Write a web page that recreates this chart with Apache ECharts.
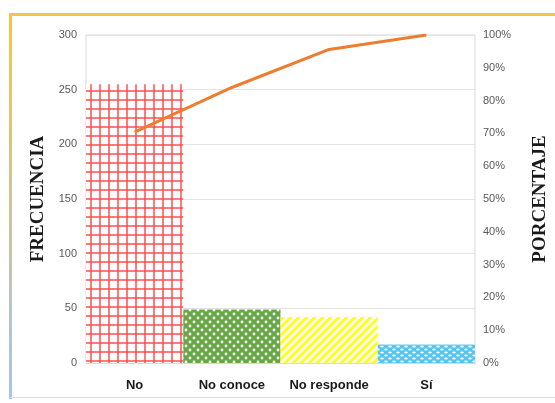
<!DOCTYPE html>
<html>
<head>
<meta charset="utf-8">
<script src="https://cdn.jsdelivr.net/npm/echarts@6/dist/echarts.min.js"></script>
<style>
  html, body { margin: 0; padding: 0; background: #fff; }
  #chart { width: 555px; height: 403px; }
</style>
</head>
<body>
<div id="chart"></div>
<script>
// Pareto data: response frequencies and cumulative percentage
const categories = ['No', 'No conoce', 'No responde', 'Sí'];
const frequencies = [255, 49, 42, 17];
const cumulativePct = [70.4, 84, 95.6, 100];
const leftTicks = [0, 50, 100, 150, 200, 250, 300];

// Small repeating tiles used as hatch fills for the bars
function tile(w, h, draw) {
  const c = document.createElement('canvas');
  c.width = w; c.height = h;
  draw(c.getContext('2d'), w, h);
  return c;
}

const plaid = tile(9, 9, (g, w, h) => {
  g.fillStyle = '#ffffff'; g.fillRect(0, 0, w, h);
  g.fillStyle = 'rgba(255,70,70,0.72)';
  g.fillRect(0, 0, w, 2);
  g.fillRect(0, 0, 2, h);
});

const dots = tile(8, 8, (g, w, h) => {
  g.fillStyle = '#66a844'; g.fillRect(0, 0, w, h);
  g.fillStyle = '#ffffff';
  [[2, 2], [6, 6]].forEach(([x, y]) => {
    g.beginPath(); g.arc(x, y, 1.4, 0, Math.PI * 2); g.fill();
  });
});

const stripes = tile(8, 8, (g, w, h) => {
  g.fillStyle = '#ffffff'; g.fillRect(0, 0, w, h);
  g.strokeStyle = '#ffff1a'; g.lineWidth = 3;
  [[-8, 8, 8, -8], [0, 8, 8, 0], [0, 16, 16, 0]].forEach(([a, b, c, d]) => {
    g.beginPath(); g.moveTo(a, b); g.lineTo(c, d); g.stroke();
  });
});

const waves = tile(8, 6, (g, w, h) => {
  g.fillStyle = '#55c6f2'; g.fillRect(0, 0, w, h);
  g.fillStyle = '#ffffff';
  [[2, 1.5], [6, 4.5]].forEach(([x, y]) => {
    g.beginPath(); g.ellipse(x, y, 1.8, 1.1, 0, 0, Math.PI * 2); g.fill();
  });
});

const fills = [plaid, dots, stripes, waves];

const tickFont = {
  color: '#595959',
  fontSize: 11,
  fontFamily: 'Liberation Sans Narrow, Liberation Sans, Arial, sans-serif'
};
const titleFont = {
  color: '#1a1a1a',
  fontSize: 19,
  fontWeight: 'bold',
  fontFamily: 'Liberation Serif, Times New Roman, serif'
};

const chart = echarts.init(document.getElementById('chart'), null, { renderer: 'canvas' });

chart.setOption({
  animation: false,
  backgroundColor: '#ffffff',
  graphic: [
    { type: 'rect', shape: { x: 10, y: 13, width: 545, height: 3 }, style: { fill: '#f6c444' }, silent: true },
    {
      type: 'rect', shape: { x: 9, y: 13, width: 3, height: 386 },
      style: {
        fill: new echarts.graphic.LinearGradient(0, 0, 0, 1, [
          { offset: 0, color: '#f6c444' },
          { offset: 1, color: '#a8c3ee' }
        ])
      },
      silent: true
    },
    { type: 'rect', shape: { x: 10, y: 397, width: 545, height: 1 }, style: { fill: '#dcdcdc' }, silent: true }
  ],
  grid: {
    left: 86, right: 80, top: 35, bottom: 40,
    outerBoundsMode: 'none',
    containLabel: false,
    show: true, borderColor: '#d9d9d9', borderWidth: 1, backgroundColor: 'transparent'
  },
  xAxis: {
    type: 'category',
    data: categories,
    axisLine: { show: true, lineStyle: { color: '#d9d9d9' } },
    axisTick: { show: false },
    axisLabel: {
      interval: 0,
      margin: 16,
      color: '#1a1a1a',
      fontSize: 13,
      fontWeight: 'bold',
      fontFamily: 'Liberation Sans, Arial, sans-serif',
      hideOverlap: false
    }
  },
  yAxis: [
    {
      type: 'value',
      min: leftTicks[0],
      max: leftTicks[leftTicks.length - 1],
      interval: leftTicks[1] - leftTicks[0],
      name: 'FRECUENCIA',
      nameLocation: 'middle',
      nameRotate: 90,
      nameGap: 36,
      nameTextStyle: titleFont,
      axisLine: { show: false },
      axisTick: { show: false },
      axisLabel: Object.assign({ margin: 9 }, tickFont),
      splitLine: { show: true, lineStyle: { color: '#e3e3e3', width: 1 } }
    },
    {
      type: 'value',
      min: 0,
      max: 100,
      interval: 10,
      position: 'right',
      name: 'PORCENTAJE',
      nameLocation: 'middle',
      nameRotate: 90,
      nameGap: 56,
      nameTextStyle: titleFont,
      axisLine: { show: false },
      axisTick: { show: false },
      axisLabel: Object.assign({ margin: 8, formatter: '{value}%' }, tickFont),
      splitLine: { show: false }
    }
  ],
  series: [
    {
      type: 'bar',
      barCategoryGap: 0,
      data: frequencies.map((v, i) => ({
        value: v,
        itemStyle: { color: { image: fills[i], repeat: 'repeat' } }
      })),
      z: 2
    },
    {
      type: 'line',
      yAxisIndex: 1,
      data: cumulativePct,
      symbol: 'none',
      lineStyle: { color: '#ed7d31', width: 3 },
      z: 3
    }
  ]
});
</script>
</body>
</html>
